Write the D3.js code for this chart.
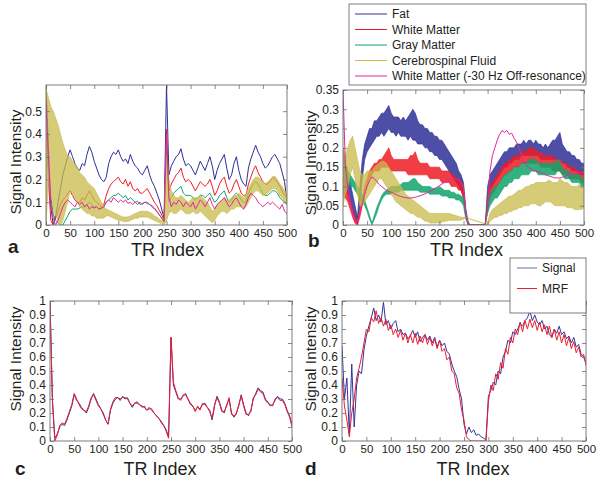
<!DOCTYPE html>
<html><head><meta charset="utf-8">
<script src="https://cdn.jsdelivr.net/npm/d3@7"></script>
<style>
body{margin:0;background:#fff;}
svg{display:block;font-family:"Liberation Sans",Arial,sans-serif;}
</style></head>
<body><svg id="c" width="600" height="480"></svg>
<script>
// TR index positions (every 5th TR, 0..500)
const trIndex = d3.range(0, 501, 5);
const seriesNames = ["Fat","White Matter","Gray Matter","Cerebrospinal Fluid","White Matter (-30 Hz Off-resonance)"];
const xTicks = [0,50,100,150,200,250,300,350,400,450,500];
const yTicksA = [0,0.1,0.2,0.3,0.4,0.5];
const yTicksB = [0,0.05,0.1,0.15,0.2,0.25,0.3,0.35];
const yTicksCD = [0,0.1,0.2,0.3,0.4,0.5,0.6,0.7,0.8,0.9,1];

// ---------- Panel a ----------
const fatA = [0.615,0.35,0.08,0.0,0.04,0.1,0.16,0.22,0.26,0.3,
0.33,0.3,0.27,0.25,0.24,0.27,0.26,0.31,0.345,0.32,
0.28,0.25,0.22,0.2,0.19,0.21,0.27,0.3,0.32,0.31,
0.33,0.3,0.28,0.29,0.27,0.31,0.28,0.26,0.25,0.23,
0.22,0.24,0.26,0.22,0.19,0.17,0.14,0.11,0.07,0.03,
0.615,0.22,0.26,0.28,0.3,0.31,0.335,0.29,0.26,0.27,
0.26,0.24,0.22,0.25,0.28,0.26,0.24,0.27,0.3,0.26,
0.2,0.24,0.27,0.29,0.31,0.25,0.2,0.22,0.27,0.3,
0.24,0.2,0.18,0.17,0.25,0.29,0.32,0.35,0.32,0.3,
0.27,0.25,0.26,0.28,0.3,0.31,0.29,0.27,0.23,0.19,
0.1];
const wmA = [0.45,0.2,0.02,0.0,0.03,0.06,0.09,0.11,0.12,0.14,
0.15,0.13,0.11,0.1,0.1,0.12,0.11,0.13,0.15,0.13,
0.11,0.1,0.09,0.08,0.09,0.13,0.16,0.18,0.19,0.2,
0.21,0.19,0.18,0.2,0.17,0.19,0.16,0.15,0.16,0.14,
0.14,0.15,0.16,0.14,0.12,0.1,0.085,0.065,0.045,0.02,
0.42,0.15,0.18,0.2,0.22,0.23,0.25,0.21,0.19,0.2,
0.19,0.17,0.15,0.17,0.19,0.18,0.17,0.18,0.2,0.17,
0.13,0.15,0.18,0.2,0.21,0.17,0.14,0.15,0.18,0.2,
0.17,0.14,0.13,0.13,0.18,0.21,0.24,0.26,0.23,0.21,
0.19,0.18,0.18,0.19,0.21,0.2,0.19,0.17,0.15,0.13,
0.12];
const gmA = [0.5,0.25,0.12,0.05,0.02,0.01,0.0,0.0,0.02,0.04,
0.06,0.07,0.07,0.07,0.075,0.08,0.08,0.09,0.1,0.09,
0.08,0.08,0.07,0.07,0.08,0.1,0.11,0.12,0.13,0.13,
0.14,0.13,0.12,0.13,0.11,0.12,0.11,0.1,0.105,0.09,
0.095,0.1,0.1,0.09,0.08,0.07,0.06,0.045,0.03,0.015,
0.35,0.1,0.12,0.14,0.15,0.16,0.17,0.14,0.13,0.13,
0.13,0.12,0.11,0.12,0.13,0.13,0.12,0.13,0.14,0.12,
0.1,0.11,0.13,0.14,0.15,0.12,0.1,0.11,0.13,0.14,
0.13,0.11,0.1,0.1,0.14,0.16,0.18,0.19,0.18,0.16,
0.14,0.13,0.13,0.14,0.15,0.15,0.14,0.12,0.11,0.1,
0.09];
const csfLoA = [0.0,0.2,0.15,0.08,0.04,0.02,0.0,0.02,0.06,0.1,
0.15,0.14,0.12,0.1,0.08,0.07,0.06,0.05,0.05,0.04,
0.04,0.03,0.03,0.03,0.03,0.04,0.04,0.035,0.03,0.025,
0.02,0.02,0.015,0.015,0.015,0.02,0.025,0.03,0.03,0.035,
0.035,0.035,0.035,0.03,0.025,0.02,0.015,0.01,0.005,0.0,
0.02,0.05,0.06,0.05,0.05,0.06,0.07,0.06,0.05,0.05,
0.05,0.06,0.05,0.05,0.06,0.05,0.04,0.03,0.02,0.01,
0.02,0.04,0.05,0.06,0.06,0.05,0.06,0.07,0.07,0.08,
0.08,0.08,0.07,0.08,0.1,0.12,0.14,0.15,0.15,0.14,
0.13,0.13,0.14,0.15,0.16,0.16,0.15,0.13,0.12,0.1,
0.09];
const csfHiA = [0.6,0.56,0.52,0.5,0.47,0.44,0.4,0.36,0.33,0.3,
0.3,0.28,0.27,0.25,0.23,0.22,0.21,0.19,0.18,0.17,
0.16,0.14,0.12,0.1,0.08,0.07,0.065,0.06,0.055,0.05,
0.045,0.04,0.035,0.035,0.035,0.04,0.045,0.05,0.055,0.06,
0.06,0.06,0.06,0.055,0.05,0.04,0.035,0.025,0.02,0.01,
0.3,0.2,0.15,0.13,0.12,0.12,0.13,0.12,0.11,0.1,
0.11,0.12,0.12,0.12,0.13,0.12,0.11,0.1,0.08,0.06,
0.07,0.09,0.1,0.11,0.12,0.11,0.11,0.12,0.13,0.13,
0.14,0.13,0.12,0.14,0.16,0.18,0.2,0.21,0.21,0.2,
0.19,0.18,0.19,0.2,0.21,0.215,0.2,0.18,0.17,0.15,
0.14];
const offA = [0.55,0.3,0.1,0.03,0.0,0.02,0.05,0.08,0.1,0.11,
0.1,0.09,0.08,0.1,0.09,0.1,0.08,0.09,0.07,0.08,
0.075,0.08,0.07,0.075,0.08,0.1,0.11,0.1,0.12,0.11,
0.1,0.11,0.1,0.11,0.095,0.1,0.09,0.1,0.09,0.1,
0.09,0.1,0.095,0.09,0.085,0.075,0.06,0.045,0.03,0.015,
0.4,0.12,0.08,0.1,0.09,0.11,0.1,0.08,0.1,0.09,
0.08,0.1,0.07,0.09,0.11,0.1,0.08,0.1,0.12,0.09,
0.07,0.09,0.1,0.11,0.12,0.1,0.08,0.09,0.11,0.12,
0.1,0.08,0.07,0.09,0.12,0.14,0.13,0.12,0.1,0.09,
0.08,0.09,0.1,0.09,0.1,0.09,0.08,0.07,0.09,0.06,
0.05];

// ---------- Panel b ----------
const fatLoB = [0.12,0.1,0.08,0.06,0.04,0.02,0.0,0.05,0.12,0.17,
0.19,0.2,0.21,0.22,0.23,0.23,0.24,0.23,0.24,0.25,
0.24,0.24,0.23,0.24,0.23,0.23,0.23,0.22,0.23,0.22,
0.22,0.21,0.21,0.21,0.2,0.2,0.19,0.19,0.18,0.18,
0.17,0.17,0.16,0.15,0.14,0.13,0.12,0.11,0.1,0.09,
0.07,0.02,0.0,0,0,0,0,0,0,0,
0.05,0.09,0.1,0.11,0.12,0.13,0.14,0.15,0.15,0.16,
0.16,0.17,0.17,0.17,0.18,0.18,0.18,0.18,0.18,0.18,
0.18,0.18,0.17,0.17,0.17,0.17,0.17,0.17,0.17,0.17,
0.17,0.16,0.16,0.15,0.15,0.14,0.14,0.14,0.13,0.13,
0.13];
const fatHiB = [0.2,0.16,0.14,0.11,0.08,0.05,0.02,0.1,0.17,0.21,
0.23,0.25,0.25,0.27,0.27,0.28,0.29,0.29,0.3,0.31,
0.29,0.28,0.28,0.28,0.27,0.28,0.27,0.28,0.29,0.3,
0.29,0.27,0.26,0.26,0.25,0.25,0.24,0.24,0.23,0.23,
0.22,0.22,0.21,0.2,0.19,0.18,0.17,0.16,0.14,0.13,
0.11,0.04,0.005,0,0,0,0,0,0,0,
0.1,0.13,0.14,0.15,0.16,0.17,0.18,0.19,0.19,0.2,
0.2,0.2,0.21,0.21,0.21,0.22,0.21,0.22,0.22,0.21,
0.22,0.21,0.21,0.2,0.21,0.2,0.21,0.22,0.22,0.23,
0.24,0.21,0.2,0.19,0.19,0.18,0.18,0.17,0.17,0.16,
0.16];
const wmLoB = [0.08,0.07,0.06,0.04,0.02,0.005,0.0,0.02,0.05,0.08,
0.1,0.12,0.13,0.14,0.14,0.14,0.15,0.15,0.15,0.15,
0.14,0.14,0.14,0.14,0.14,0.14,0.14,0.13,0.13,0.13,
0.13,0.13,0.13,0.13,0.13,0.13,0.12,0.12,0.12,0.12,
0.12,0.11,0.11,0.11,0.11,0.1,0.1,0.1,0.09,0.09,
0.07,0.02,0.0,0,0,0,0,0,0,0,
0.04,0.07,0.08,0.09,0.1,0.11,0.12,0.13,0.13,0.14,
0.14,0.15,0.15,0.15,0.16,0.16,0.16,0.16,0.16,0.16,
0.16,0.16,0.15,0.15,0.15,0.15,0.15,0.14,0.14,0.14,
0.14,0.13,0.13,0.13,0.12,0.12,0.12,0.12,0.12,0.11,
0.11];
const wmHiB = [0.12,0.1,0.08,0.06,0.04,0.02,0.01,0.04,0.07,0.1,
0.12,0.14,0.15,0.16,0.16,0.17,0.17,0.18,0.19,0.2,
0.18,0.17,0.17,0.17,0.17,0.17,0.17,0.17,0.18,0.18,
0.19,0.17,0.16,0.16,0.16,0.16,0.15,0.15,0.15,0.15,
0.15,0.14,0.14,0.14,0.14,0.13,0.13,0.12,0.12,0.11,
0.1,0.03,0.005,0,0,0,0,0,0,0,
0.07,0.1,0.11,0.12,0.13,0.14,0.15,0.16,0.16,0.17,
0.17,0.18,0.18,0.18,0.19,0.19,0.19,0.2,0.2,0.2,
0.19,0.19,0.19,0.18,0.18,0.18,0.18,0.18,0.17,0.17,
0.17,0.16,0.16,0.16,0.15,0.15,0.15,0.14,0.14,0.14,
0.13];
const gmLoB = [0.13,0.12,0.11,0.1,0.1,0.09,0.08,0.07,0.06,0.05,
0.035,0.015,0.0,0.015,0.03,0.05,0.065,0.075,0.08,0.08,
0.08,0.085,0.085,0.085,0.09,0.09,0.09,0.09,0.09,0.09,
0.09,0.09,0.085,0.085,0.085,0.085,0.08,0.08,0.08,0.08,
0.08,0.075,0.075,0.075,0.07,0.07,0.07,0.065,0.065,0.06,
0.05,0.015,0.0,0,0,0,0,0,0,0,
0.03,0.05,0.06,0.07,0.07,0.08,0.09,0.1,0.1,0.11,
0.11,0.12,0.12,0.12,0.13,0.13,0.13,0.13,0.14,0.14,
0.14,0.13,0.13,0.13,0.13,0.13,0.13,0.13,0.13,0.14,
0.14,0.13,0.12,0.12,0.12,0.11,0.11,0.11,0.11,0.1,
0.1];
const gmHiB = [0.17,0.15,0.14,0.13,0.12,0.11,0.1,0.09,0.08,0.065,
0.045,0.025,0.005,0.025,0.045,0.06,0.075,0.085,0.09,0.095,
0.1,0.1,0.1,0.1,0.105,0.11,0.11,0.11,0.115,0.12,
0.12,0.11,0.105,0.1,0.1,0.1,0.1,0.095,0.095,0.095,
0.1,0.095,0.09,0.09,0.09,0.085,0.085,0.08,0.08,0.075,
0.07,0.025,0.005,0,0,0,0,0,0,0,
0.06,0.08,0.09,0.1,0.1,0.11,0.12,0.13,0.13,0.14,
0.14,0.15,0.15,0.15,0.16,0.16,0.16,0.17,0.17,0.17,
0.17,0.16,0.16,0.16,0.16,0.16,0.16,0.16,0.16,0.17,
0.16,0.15,0.14,0.14,0.14,0.13,0.13,0.13,0.13,0.12,
0.12];
const csfLoB = [0.05,0.08,0.1,0.13,0.15,0.12,0.08,0.05,0.05,0.06,
0.07,0.08,0.09,0.1,0.11,0.12,0.12,0.11,0.1,0.09,
0.08,0.07,0.06,0.055,0.05,0.045,0.04,0.035,0.03,0.03,
0.025,0.02,0.02,0.015,0.01,0.01,0.005,0.005,0.005,0.005,
0.005,0.008,0.01,0.01,0.012,0.012,0.012,0.012,0.012,0.013,
0.015,0.02,0.018,0.015,0.013,0.011,0.009,0.007,0.005,0.003,
0.0,0.01,0.015,0.02,0.02,0.025,0.025,0.03,0.03,0.035,
0.035,0.04,0.04,0.045,0.045,0.05,0.05,0.05,0.055,0.055,
0.055,0.05,0.05,0.055,0.06,0.06,0.06,0.055,0.05,0.05,
0.05,0.05,0.05,0.045,0.045,0.045,0.04,0.04,0.04,0.04,
0.045];
const csfHiB = [0.2,0.18,0.2,0.22,0.23,0.2,0.17,0.14,0.13,0.13,
0.14,0.14,0.14,0.15,0.155,0.16,0.165,0.165,0.16,0.15,
0.14,0.13,0.12,0.11,0.1,0.09,0.08,0.075,0.07,0.065,
0.06,0.055,0.05,0.045,0.04,0.035,0.03,0.03,0.03,0.03,
0.03,0.03,0.03,0.03,0.03,0.028,0.026,0.024,0.022,0.02,
0.02,0.02,0.018,0.015,0.013,0.011,0.009,0.007,0.005,0.003,
0.005,0.03,0.04,0.045,0.05,0.055,0.06,0.065,0.07,0.075,
0.075,0.08,0.085,0.09,0.09,0.095,0.1,0.1,0.105,0.105,
0.11,0.11,0.11,0.11,0.11,0.115,0.115,0.11,0.11,0.11,
0.12,0.115,0.11,0.11,0.105,0.1,0.1,0.1,0.105,0.1,
0.1];
const offB = [0.35,0.15,0.1,0.06,0.03,0.005,0.01,0.03,0.055,0.08,
0.1,0.115,0.125,0.12,0.113,0.105,0.1,0.095,0.09,0.087,
0.085,0.082,0.079,0.076,0.074,0.072,0.071,0.07,0.07,0.071,
0.072,0.074,0.076,0.078,0.081,0.084,0.087,0.09,0.094,0.098,
0.102,0.106,0.11,0.114,0.117,0.12,0.121,0.12,0.117,0.11,
0.095,0.03,0.002,0,0,0,0,0,0,0,
0.04,0.14,0.18,0.2,0.22,0.235,0.245,0.24,0.245,0.235,
0.238,0.225,0.215,0.2,0.18,0.165,0.155,0.15,0.145,0.14,
0.14,0.138,0.135,0.133,0.13,0.128,0.126,0.124,0.122,0.122,
0.122,0.124,0.126,0.128,0.13,0.132,0.133,0.134,0.135,0.136,
0.136];

// ---------- Panel c ----------
const signalC = [1.0,0.3,0.02,0.05,0.1,0.12,0.11,0.15,0.2,0.25,
0.33,0.29,0.27,0.24,0.22,0.2,0.24,0.3,0.34,0.3,
0.26,0.23,0.2,0.15,0.12,0.22,0.27,0.3,0.31,0.29,
0.32,0.3,0.31,0.27,0.24,0.27,0.28,0.26,0.25,0.24,
0.22,0.24,0.22,0.2,0.18,0.16,0.14,0.11,0.08,0.03,
0.74,0.4,0.35,0.3,0.3,0.32,0.34,0.3,0.27,0.25,
0.22,0.24,0.23,0.26,0.27,0.24,0.22,0.15,0.25,0.32,
0.28,0.22,0.2,0.26,0.3,0.2,0.17,0.2,0.25,0.33,
0.26,0.2,0.18,0.22,0.3,0.34,0.38,0.36,0.35,0.3,
0.28,0.25,0.26,0.29,0.32,0.3,0.3,0.27,0.22,0.18,
0.12];
const mrfC = [1.0,0.28,0.0,0.04,0.11,0.13,0.12,0.16,0.21,0.26,
0.34,0.3,0.26,0.23,0.22,0.21,0.25,0.31,0.33,0.29,
0.25,0.23,0.19,0.15,0.12,0.23,0.28,0.31,0.31,0.3,
0.31,0.31,0.3,0.27,0.25,0.27,0.27,0.26,0.24,0.25,
0.22,0.23,0.23,0.2,0.18,0.16,0.13,0.11,0.07,0.02,
0.74,0.42,0.36,0.31,0.29,0.33,0.33,0.3,0.26,0.25,
0.21,0.25,0.22,0.27,0.26,0.24,0.21,0.16,0.26,0.31,
0.27,0.21,0.21,0.25,0.31,0.19,0.18,0.19,0.26,0.32,
0.25,0.19,0.19,0.21,0.31,0.33,0.37,0.35,0.34,0.29,
0.27,0.26,0.25,0.3,0.31,0.29,0.29,0.26,0.21,0.17,
0.1];

// ---------- Panel d ----------
const signalD = [0.68,0.3,0.45,0.05,0.55,0.1,0.4,0.5,0.48,0.65,
0.75,0.82,0.88,0.95,0.86,0.9,0.85,0.99,0.83,0.86,
0.8,0.84,0.86,0.78,0.8,0.76,0.77,0.73,0.75,0.79,
0.74,0.78,0.71,0.74,0.76,0.72,0.75,0.7,0.74,0.67,
0.72,0.68,0.7,0.64,0.62,0.55,0.5,0.46,0.37,0.3,
0.12,0.05,0.1,0.06,0.08,0.04,0.05,0.03,0.02,0.01,
0.32,0.36,0.42,0.4,0.5,0.48,0.6,0.64,0.72,0.7,
0.78,0.76,0.8,0.84,0.82,0.86,0.88,0.93,0.86,0.9,
0.85,0.83,0.86,0.8,0.82,0.76,0.74,0.8,0.77,0.82,
0.76,0.78,0.73,0.75,0.7,0.74,0.67,0.69,0.62,0.6,
0.56];
const mrfD = [0.45,0.25,0.15,0.03,0.2,0.3,0.45,0.52,0.6,0.7,
0.8,0.78,0.88,0.85,0.93,0.84,0.88,0.82,0.87,0.79,
0.83,0.76,0.8,0.74,0.79,0.72,0.77,0.7,0.76,0.7,
0.77,0.69,0.75,0.7,0.76,0.69,0.74,0.68,0.73,0.66,
0.72,0.64,0.66,0.58,0.6,0.5,0.48,0.38,0.34,0.22,
0.15,0.03,0.01,0.0,0.0,0.0,0.0,0.0,0.0,0.0,
0.28,0.4,0.36,0.48,0.44,0.56,0.52,0.66,0.62,0.74,
0.7,0.8,0.76,0.85,0.78,0.86,0.8,0.87,0.81,0.86,
0.79,0.85,0.78,0.83,0.76,0.82,0.74,0.8,0.72,0.78,
0.7,0.76,0.68,0.74,0.66,0.71,0.63,0.67,0.6,0.62,
0.54];

const allArrays = {fatA,wmA,gmA,csfLoA,csfHiA,offA,fatLoB,fatHiB,wmLoB,wmHiB,gmLoB,gmHiB,csfLoB,csfHiB,offB,signalC,mrfC,signalD,mrfD};
for (const k in allArrays) if (allArrays[k].length !== trIndex.length) throw new Error(k + " has length " + allArrays[k].length);

const COL = {fat:"#2e2f96", wm:"#ee1c25", gm:"#0fa36b", csf:"#c8ba48", off:"#e0279c", sig:"#34349c", mrf:"#ee1c2e"};
const TEXT = "#231f20", AXIS = "#6d6e71";
const FONT = "Liberation Sans, Arial, sans-serif";

const svg = d3.select("#c");
let clipId = 0;

function panel(cfg) {
  const x = d3.scaleLinear().domain([0, 500]).range([cfg.left, cfg.right]);
  const y = d3.scaleLinear().domain([0, cfg.ymax]).range([cfg.bottom, cfg.top]);
  const g = svg.append("g");
  const id = "clip" + (clipId++);
  svg.append("clipPath").attr("id", id).append("rect")
    .attr("x", cfg.left).attr("y", cfg.top).attr("width", cfg.right - cfg.left).attr("height", cfg.bottom - cfg.top);
  const plot = g.append("g").attr("clip-path", `url(#${id})`);
  const fmt = v => String(+v.toFixed(2));

  // axes with inward ticks
  const ax = (sel) => sel.call(s => s.select(".domain").remove())
    .call(s => s.selectAll(".tick line").attr("stroke", AXIS).attr("stroke-width", 0.8));
  g.append("g").attr("transform", `translate(0,${cfg.bottom})`)
    .call(d3.axisBottom(x).tickValues(xTicks).tickSize(-4).tickPadding(4).tickFormat(d => d))
    .call(ax).call(s => s.selectAll("text").attr("font-size", 11.5).attr("fill", TEXT).attr("font-family", FONT));
  g.append("g").attr("transform", `translate(0,${cfg.top})`)
    .call(d3.axisTop(x).tickValues(xTicks).tickSize(-4).tickFormat(""))
    .call(ax);
  g.append("g").attr("transform", `translate(${cfg.left},0)`)
    .call(d3.axisLeft(y).tickValues(cfg.yticks).tickSize(-4).tickPadding(4).tickFormat(fmt))
    .call(ax).call(s => s.selectAll("text").attr("font-size", 12).attr("fill", TEXT).attr("font-family", FONT));
  g.append("g").attr("transform", `translate(${cfg.right},0)`)
    .call(d3.axisRight(y).tickValues(cfg.yticks).tickSize(-4).tickFormat(""))
    .call(ax);

  // series
  cfg.series.forEach(s => {
    if (s.lo) {
      const area = d3.area().x((d, i) => x(trIndex[i])).y0((d, i) => y(s.lo[i])).y1((d, i) => y(s.hi[i]));
      plot.append("path").attr("d", area(s.lo)).attr("fill", s.color).attr("fill-opacity", s.op || 0.85)
        .attr("stroke", s.color).attr("stroke-width", 0.7).attr("stroke-opacity", 0.9);
    } else {
      const line = d3.line().x((d, i) => x(trIndex[i])).y(d => y(d));
      plot.append("path").attr("d", line(s.values)).attr("fill", "none")
        .attr("stroke", s.color).attr("stroke-width", s.width || 1).attr("stroke-linejoin", "round");
    }
  });

  // box
  g.append("rect").attr("x", cfg.left).attr("y", cfg.top).attr("width", cfg.right - cfg.left)
    .attr("height", cfg.bottom - cfg.top).attr("fill", "none").attr("stroke", AXIS).attr("stroke-width", 0.9);

  // labels
  g.append("text").attr("x", (cfg.left + cfg.right) / 2 + cfg.xlOff).attr("y", cfg.xlY)
    .attr("text-anchor", "middle").attr("font-size", 18).attr("fill", TEXT).text("TR Index");
  g.append("text").attr("transform", `translate(${cfg.ylX},${cfg.ylY}) rotate(-90)`)
    .attr("text-anchor", "middle").attr("dominant-baseline", "central")
    .attr("font-size", 15.5).attr("fill", TEXT).text("Signal Intensity");
  g.append("text").attr("x", cfg.letter[0]).attr("y", cfg.letter[1]).attr("font-size", 19)
    .attr("font-weight", "bold").attr("fill", TEXT).text(cfg.letterText);
  return {x, y};
}

panel({left:46, right:287, top:85, bottom:225, ymax:0.615, yticks:yTicksA,
  xlOff:1, xlY:256, ylX:15, ylY:162, letter:[8,253], letterText:"a",
  series:[{values:fatA,color:COL.fat},{values:wmA,color:COL.wm},{values:gmA,color:COL.gm},
          {lo:csfLoA,hi:csfHiA,color:COL.csf,op:0.75},{values:offA,color:COL.off}]});

panel({left:343, right:584, top:90, bottom:225, ymax:0.35, yticks:yTicksB,
  xlOff:3, xlY:256, ylX:310, ylY:163, letter:[308,247], letterText:"b",
  series:[{lo:fatLoB,hi:fatHiB,color:COL.fat},{lo:wmLoB,hi:wmHiB,color:COL.wm},{lo:gmLoB,hi:gmHiB,color:COL.gm},
          {lo:csfLoB,hi:csfHiB,color:COL.csf,op:0.75},{values:offB,color:COL.off}]});

panel({left:50, right:292, top:301, bottom:441, ymax:1, yticks:yTicksCD,
  xlOff:-11, xlY:475, ylX:15, ylY:359, letter:[15,475], letterText:"c",
  series:[{values:signalC,color:COL.sig},{values:mrfC,color:COL.mrf}]});

panel({left:342, right:586, top:301, bottom:441, ymax:1, yticks:yTicksCD,
  xlOff:9, xlY:475, ylX:310, ylY:359, letter:[305,475], letterText:"d",
  series:[{values:signalD,color:COL.sig},{values:mrfD,color:COL.mrf}]});

// Legend (panel b)
const legColors = [COL.fat, COL.wm, COL.gm, COL.csf, COL.off];
const lg = svg.append("g");
lg.append("rect").attr("x", 349).attr("y", 4).attr("width", 237).attr("height", 81)
  .attr("fill", "#fff").attr("stroke", AXIS).attr("stroke-width", 0.9);
seriesNames.forEach((n, i) => {
  const yy = 14 + i * 15.5;
  lg.append("line").attr("x1", 355).attr("x2", 387).attr("y1", yy).attr("y2", yy)
    .attr("stroke", legColors[i]).attr("stroke-width", 1);
  lg.append("text").attr("x", 392).attr("y", yy).attr("dominant-baseline", "central")
    .attr("font-size", 12).attr("fill", TEXT).text(n);
});
// Legend (panel d)
const lg2 = svg.append("g");
lg2.append("rect").attr("x", 510).attr("y", 258).attr("width", 76).attr("height", 55)
  .attr("fill", "#fff").attr("stroke", AXIS).attr("stroke-width", 0.9);
[["Signal", "#6a6ab0"], ["MRF", COL.mrf]].forEach((d, i) => {
  const yy = 268 + i * 20.5;
  lg2.append("line").attr("x1", 517).attr("x2", 537).attr("y1", yy).attr("y2", yy)
    .attr("stroke", d[1]).attr("stroke-width", 1);
  lg2.append("text").attr("x", 542).attr("y", yy).attr("dominant-baseline", "central")
    .attr("font-size", 12).attr("fill", TEXT).text(d[0]);
});
</script></body></html>
